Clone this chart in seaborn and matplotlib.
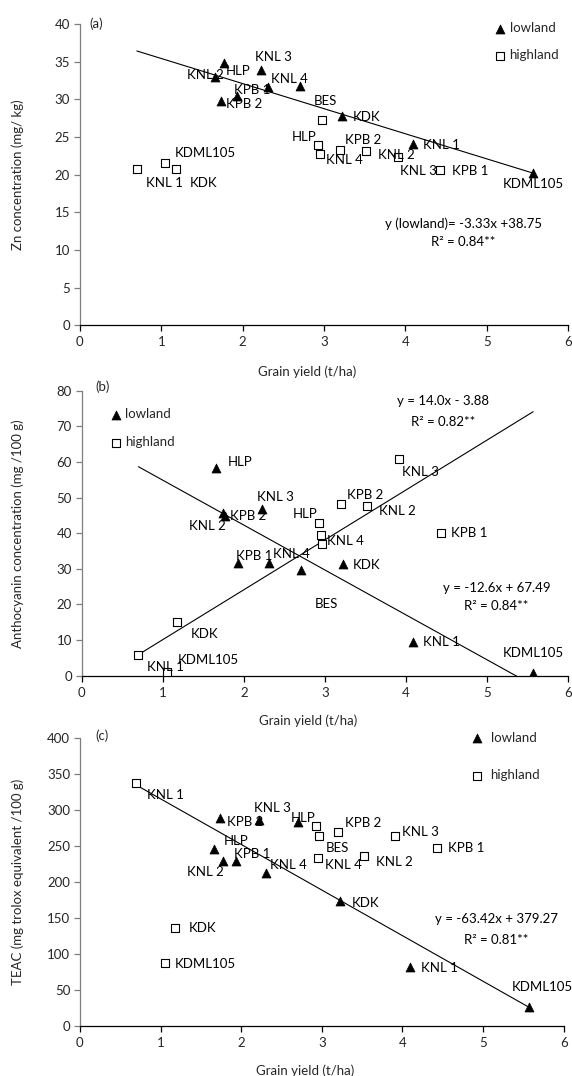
import numpy as np
import pandas as pd
import matplotlib
matplotlib.use("Agg")
import matplotlib.pyplot as plt
import seaborn as sns

# ---------------- data ----------------
yield_low = [1.66, 1.74, 1.77, 1.93, 2.22, 2.31, 2.71, 3.22, 4.09, 5.57]
yield_high = [0.70, 1.05, 1.18, 2.93, 2.95, 2.97, 3.20, 3.52, 3.91, 4.43]

zn_low = [32.9, 29.8, 34.8, 30.4, 33.9, 31.6, 31.8, 27.8, 24.1, 20.2]
zn_high = [20.7, 21.5, 20.7, 23.9, 22.7, 27.2, 23.3, 23.2, 22.4, 20.6]

anth_low = [58.4, 45.6, 44.9, 31.7, 46.8, 31.7, 29.7, 31.3, 9.5, 0.7]
anth_high = [5.8, 1.1, 15.1, 42.8, 39.5, 37.0, 48.2, 47.6, 60.7, 40.1]

teac_low = [246.1, 289.7, 229.4, 229.4, 286.4, 213.2, 284.1, 173.8, 82.5, 26.9]
teac_high = [338.3, 87.2, 136.7, 278.5, 233.2, 264.2, 269.3, 236.4, 264.2, 248.0]

# regression coefficients (slope, intercept) as printed
fit_a = [(-3.33, 38.75)]
fit_b = [(14.0, -3.88), (-12.6, 67.49)]
fit_c = [(-63.42, 379.27)]

eq_a = ["y (lowland)= -3.33x +38.75", "R² = 0.84**"]
eq_b1 = ["y = 14.0x - 3.88", "R² = 0.82**"]
eq_b2 = ["y = -12.6x + 67.49", "R² = 0.84**"]
eq_c = ["y = -63.42x + 379.27", "R² = 0.81**"]

# point labels (text, x, y) placed as in the original figure
labels_a = [("KNL 3", 2.15, 35.6), ("KNL 2", 1.32, 33.2), ("HLP", 1.79, 33.8),
            ("KNL 4", 2.35, 32.7), ("KPB 1", 1.90, 31.3), ("KPB 2", 1.80, 29.4),
            ("BES", 2.87, 29.8), ("KDK", 3.35, 27.6), ("HLP", 2.61, 25.0),
            ("KPB 2", 3.26, 24.6), ("KNL 1", 4.22, 23.9), ("KDML105", 1.17, 22.9),
            ("KNL 4", 3.02, 21.9), ("KNL 2", 3.66, 22.6), ("KNL 3", 3.94, 20.5),
            ("KPB 1", 4.57, 20.5), ("KNL 1", 0.81, 18.9), ("KDK", 1.35, 18.9),
            ("KDML105", 5.20, 18.7)]
labels_b = [("HLP", 1.80, 60.1), ("KNL 3", 2.16, 50.1), ("KPB 2", 1.83, 44.8),
            ("KNL 2", 1.32, 42.0), ("HLP", 2.61, 45.4), ("KPB 2", 3.27, 50.7),
            ("KNL 2", 3.67, 46.3), ("KNL 3", 3.95, 57.3), ("KPB 1", 4.56, 40.1),
            ("KNL 4", 3.03, 37.9), ("KPB 1", 1.91, 33.6), ("KNL 4", 2.36, 34.1),
            ("KDK", 3.35, 31.1), ("BES", 2.87, 20.0), ("KDK", 1.35, 11.7),
            ("KNL 1", 4.21, 9.4), ("KDML105", 5.20, 6.3), ("KDML105", 1.18, 4.4),
            ("KNL 1", 0.81, 2.5)]
labels_c = [("KNL 1", 0.83, 321.2), ("KNL 3", 2.16, 302.7), ("KPB 2", 1.82, 284.1),
            ("HLP", 2.62, 289.7), ("KPB 2", 3.29, 281.8), ("KNL 3", 4.00, 269.3),
            ("KPB 1", 4.57, 247.1), ("HLP", 1.79, 257.2), ("BES", 3.05, 248.0),
            ("KPB 1", 1.91, 238.7), ("KNL 4", 3.04, 223.9), ("KNL 2", 3.67, 228.5),
            ("KNL 2", 1.33, 214.6), ("KNL 4", 2.36, 223.9), ("KDK", 3.37, 171.5),
            ("KDK", 1.35, 136.7), ("KDML105", 1.18, 85.8), ("KNL 1", 4.23, 81.1),
            ("KDML105", 5.36, 53.8)]

# ---------------- style ----------------
sns.set_theme(style="white")
plt.rcParams["font.family"] = ["Lato", "DejaVu Sans"]
FS = 9.5
plt.rcParams["font.size"] = FS

fig = plt.figure(figsize=(5.72, 10.76), dpi=100)

ax_a = fig.add_axes([0.1397, 0.6977, 0.8533, 0.2800])
ax_b = fig.add_axes([0.1428, 0.3720, 0.8502, 0.2649])
ax_c = fig.add_axes([0.1397, 0.04647, 0.8458, 0.2674])


def draw(ax, ylow, yhigh, fits, ymax, ystep, ylabel):
    df_l = pd.DataFrame({"x": yield_low, "y": ylow})
    df_h = pd.DataFrame({"x": yield_high, "y": yhigh})
    allx = np.array(yield_low + yield_high)
    xr = np.array([allx.min(), allx.max()])
    for s, b in fits:
        sns.lineplot(x=xr, y=s * xr + b, ax=ax, color="black", linewidth=0.8)
    sns.scatterplot(data=df_l, x="x", y="y", ax=ax, marker="^", color="black",
                    edgecolor="black", s=42, linewidth=0.5, label="lowland", zorder=3)
    sns.scatterplot(data=df_h, x="x", y="y", ax=ax, marker="s", color="white",
                    edgecolor="black", s=34, linewidth=0.8, label="highland", zorder=3)
    ax.set_xlim(0, 6)
    ax.set_ylim(0, ymax)
    ax.set_xticks(range(0, 7))
    ax.set_yticks(np.arange(0, ymax + 0.01, ystep))
    ax.yaxis.set_major_formatter(matplotlib.ticker.FormatStrFormatter("%d"))
    for sp in ["top", "right"]:
        ax.spines[sp].set_visible(False)
    ax.spines["left"].set_color("#7f7f7f")
    ax.spines["left"].set_linewidth(0.9)
    ax.spines["bottom"].set_color("black")
    ax.spines["bottom"].set_linewidth(0.9)
    ax.tick_params(axis="y", direction="out", length=4, width=0.9, color="#7f7f7f",
                   labelsize=FS, pad=3, left=True)
    ax.tick_params(axis="x", direction="out", length=4, width=0.9, color="black",
                   labelsize=FS, pad=4, bottom=True)
    ax.set_xlabel("Grain yield (t/ha)", fontsize=FS)
    ax.xaxis.set_label_coords(0.466, -0.135)
    ax.set_ylabel(ylabel, fontsize=FS)
    ax.yaxis.set_label_coords(-0.115, 0.5)
    ax.set_facecolor("white")


def put_labels(ax, labels):
    for t, x, y in labels:
        ax.text(x, y, t, fontsize=FS, ha="left", va="center", color="black", zorder=4)


def put_eq(ax, lines, x, ys):
    for t, y in zip(lines, ys):
        ax.text(x, y, t, fontsize=FS, ha="center", va="center", color="black")


# (a)
draw(ax_a, zn_low, zn_high, fit_a, 40, 5, "Zn concentration (mg/ kg)")
put_labels(ax_a, labels_a)
put_eq(ax_a, eq_a, 4.71, [13.5, 11.1])
ax_a.text(0.12, 40.0, "(a)", fontsize=FS, ha="left", va="center")
ax_a.legend(loc="upper left", bbox_to_anchor=(4.99, 41.1), bbox_transform=ax_a.transData,
            frameon=False, handletextpad=0.1, labelspacing=1.15, borderpad=0,
            fontsize=FS, handlelength=1.2)

# (b)
draw(ax_b, anth_low, anth_high, fit_b, 80, 10, "Anthocyanin concentration (mg /100 g)")
ax_b.yaxis.set_label_coords(-0.118, 0.5)
put_labels(ax_b, labels_b)
put_eq(ax_b, eq_b1, 4.46, [77.2, 71.3])
put_eq(ax_b, eq_b2, 5.12, [24.7, 19.6])
ax_b.text(0.17, 81.1, "(b)", fontsize=FS, ha="left", va="center")
ax_b.legend(loc="upper left", bbox_to_anchor=(0.245, 76.9), bbox_transform=ax_b.transData,
            frameon=False, handletextpad=0.1, labelspacing=1.2, borderpad=0,
            fontsize=FS, handlelength=1.2)

# (c)
draw(ax_c, teac_low, teac_high, fit_c, 400, 50, "TEAC (mg trolox equivalent /100 g)")
put_labels(ax_c, labels_c)
put_eq(ax_c, eq_c, 5.16, [148.4, 119.6])
ax_c.text(0.19, 403, "(c)", fontsize=FS, ha="left", va="center")
ax_c.legend(loc="upper left", bbox_to_anchor=(4.75, 418), bbox_transform=ax_c.transData,
            frameon=False, handletextpad=0.4, labelspacing=1.9, borderpad=0,
            fontsize=FS, handlelength=1.2)

fig.savefig("out.png", dpi=100, facecolor="white")
